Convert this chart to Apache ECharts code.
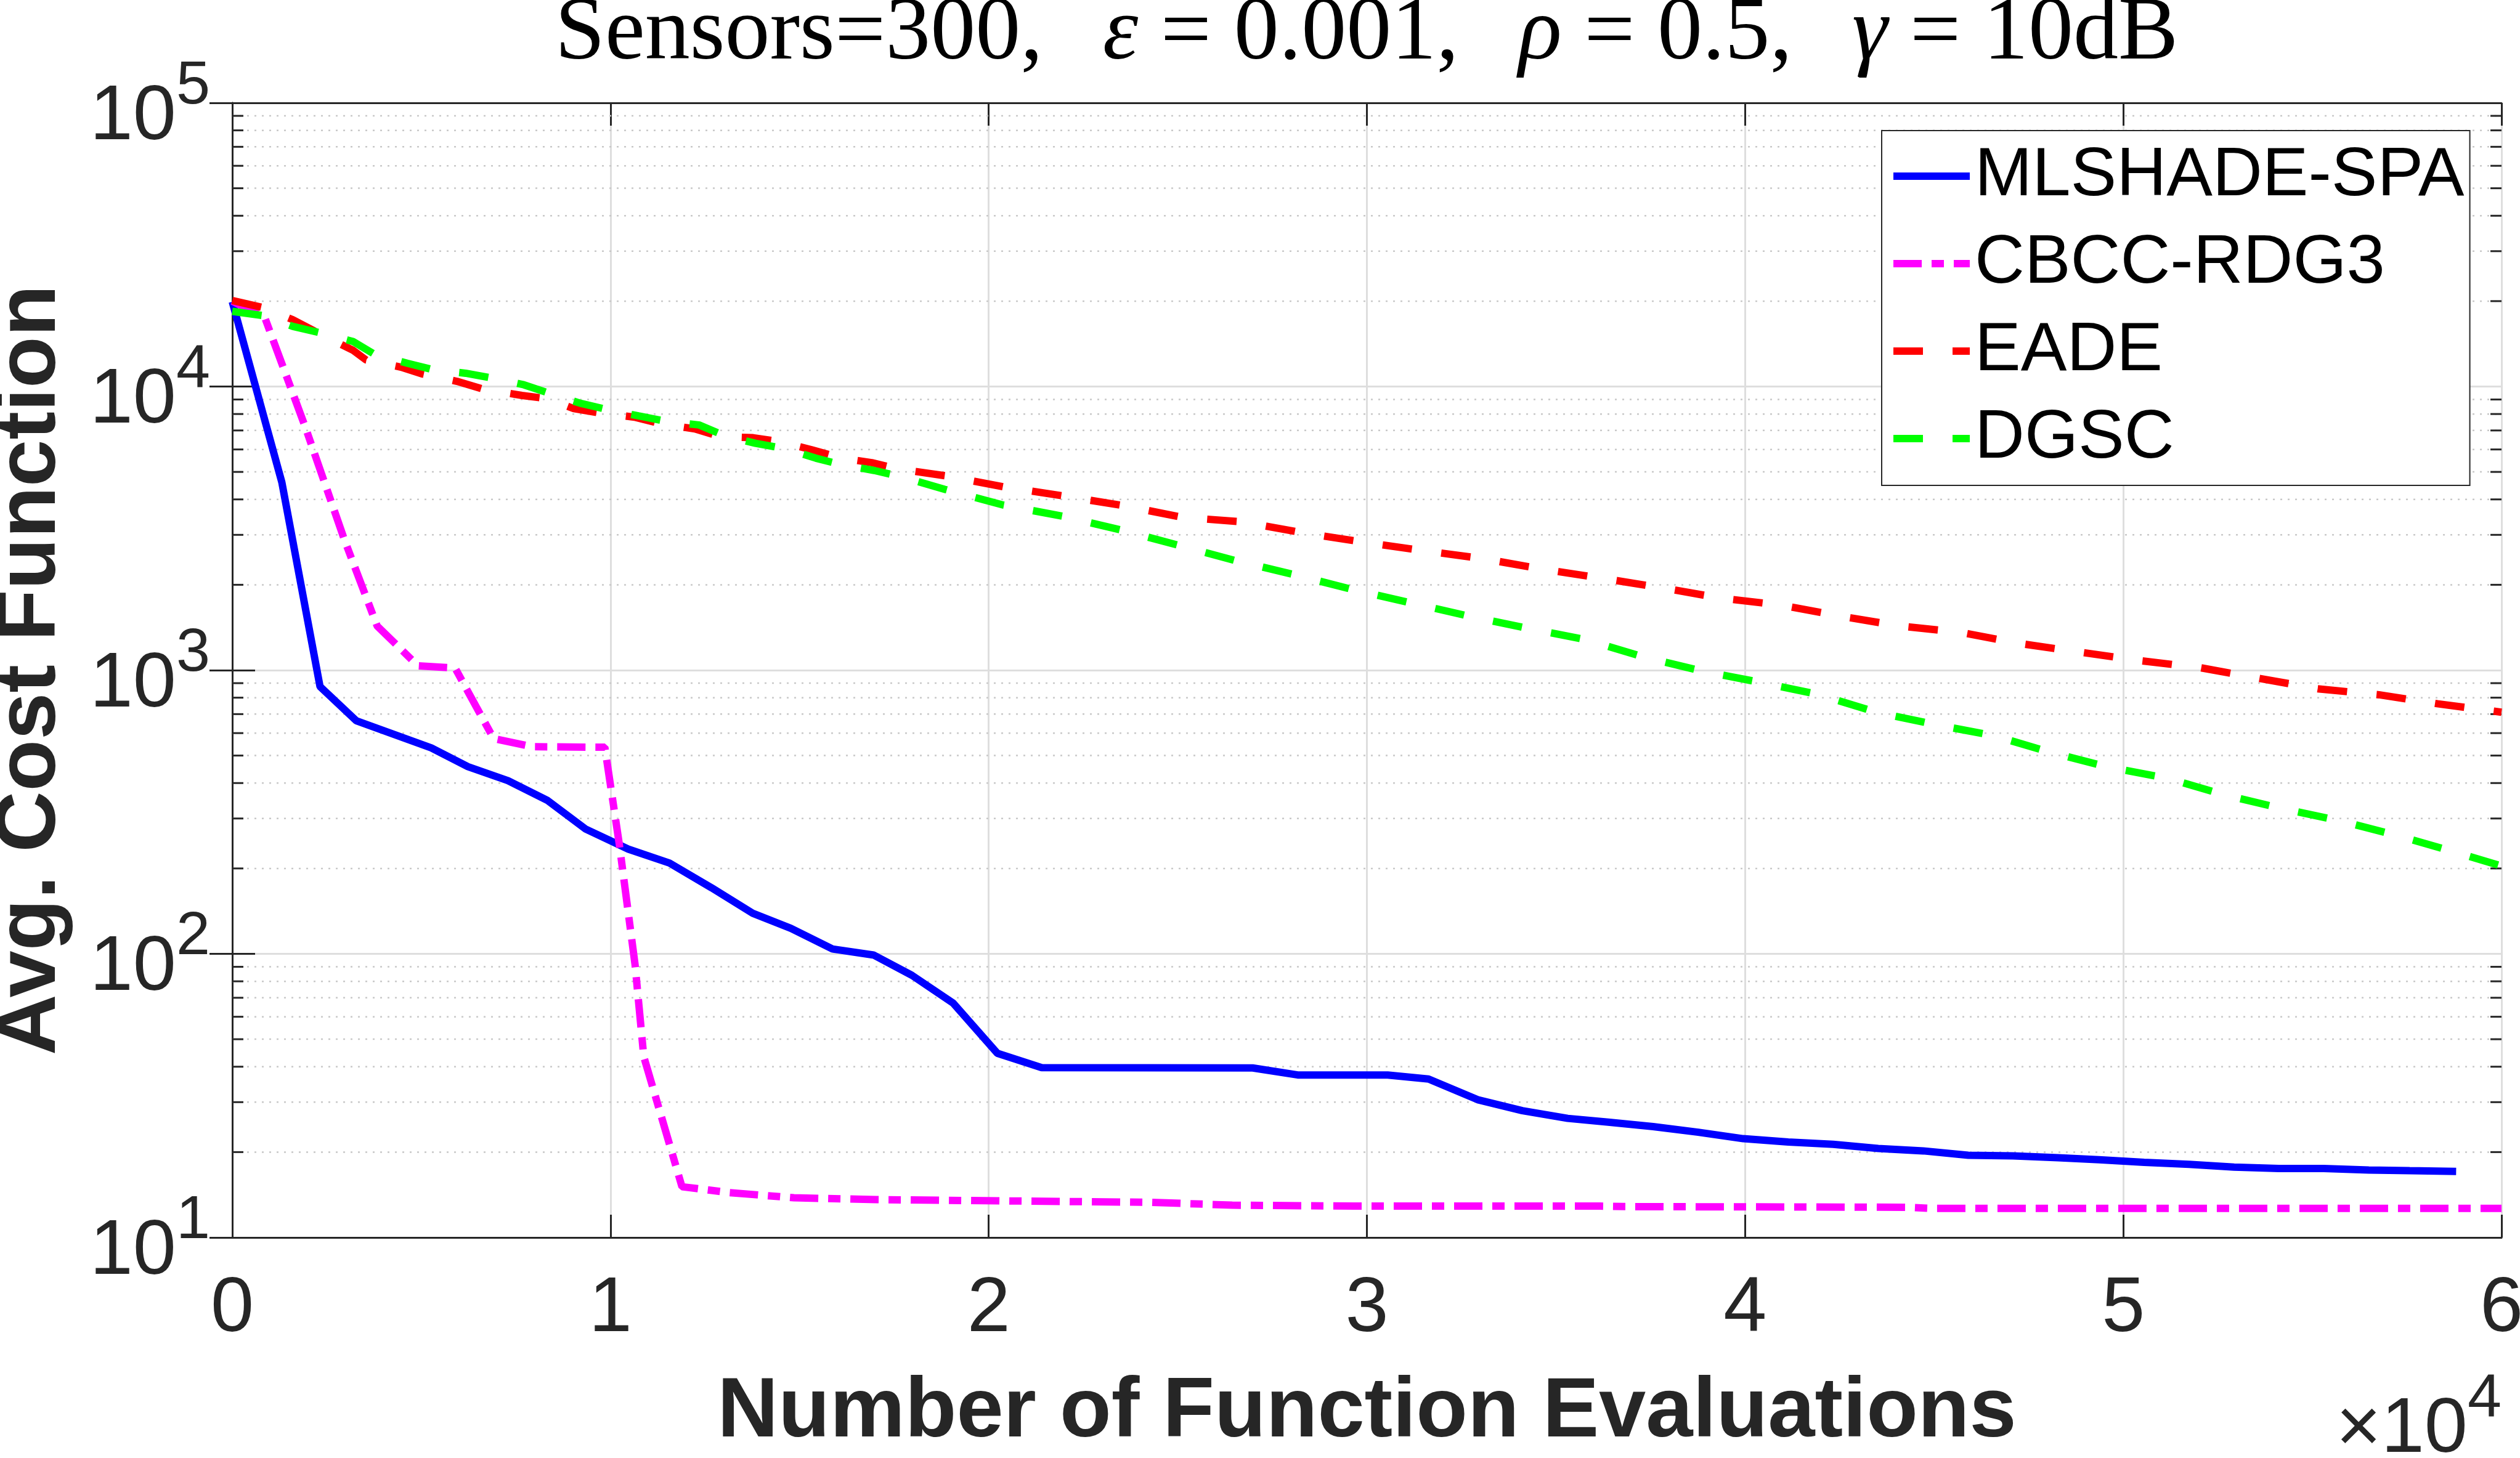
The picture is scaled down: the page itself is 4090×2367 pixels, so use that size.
<!DOCTYPE html>
<html>
<head>
<meta charset="utf-8">
<script src="https://cdn.jsdelivr.net/npm/echarts@6/dist/echarts.min.js"></script>
<style>
  html, body { margin: 0; padding: 0; background: #fff; }
  #chart { width: 4090px; height: 2367px; }
</style>
</head>
<body>
<div id="chart"></div>
<script>
// evaluations (raw count) and average cost values
const mlshadeX = [0, 1310, 2320, 3280, 5260, 6230, 7290, 8340, 9350, 10470, 11560, 12670, 13760, 14770, 15870, 16960, 17970, 19060, 20230, 21400, 26980, 28170, 30550, 31630, 32930, 34110, 35310, 36380, 37570, 38760, 39950, 41140, 42330, 43520, 44710, 45900, 47080, 48270, 49360, 50550, 51740, 52930, 54110, 55300, 56490, 57570, 58800]
const mlshadeY = [19900, 4600, 875, 663, 532, 457, 408, 347, 275, 234, 209, 171, 139, 123, 104, 99, 84, 67, 44.6, 39.7, 39.6, 37.4, 37.4, 36.2, 30.6, 28.0, 26.3, 25.5, 24.6, 23.5, 22.3, 21.7, 21.3, 20.6, 20.2, 19.5, 19.4, 19.1, 18.8, 18.4, 18.1, 17.7, 17.5, 17.5, 17.3, 17.2, 17.1]

const cbccX = [0, 860, 1940, 2970, 3830, 4910, 5890, 6910, 7940, 9850, 10230, 10650, 10880, 11890, 13140, 14850, 17030, 24300, 26440, 29680, 36170, 36800, 44300, 44900, 60000]
const cbccY = [20000, 17500, 7140, 2870, 1432, 1036, 1018, 574, 537, 535, 245, 91.5, 43.4, 15.1, 14.4, 13.8, 13.6, 13.3, 13.0, 12.9, 12.9, 12.85, 12.78, 12.67, 12.67]

const eadeX = [0, 800, 1600, 2170, 3200, 3540, 4460, 5030, 5940, 6630, 7660, 8340, 9030, 9710, 10630, 11310, 12230, 12910, 13770, 14510, 15310, 16110, 16910, 17600, 18840, 20390, 21950, 23570, 25120, 26740, 28300, 29890, 31470, 33090, 34650, 36200, 37820, 39350, 40970, 42520, 44080, 45690, 47250, 48870, 50420, 52040, 53590, 55140, 56760, 58320, 60000]
const eadeY = [20100, 19000, 17200, 15700, 13400, 12400, 11700, 11070, 10430, 9790, 9300, 9060, 8360, 8070, 7800, 7400, 7090, 6660, 6600, 6380, 5990, 5590, 5390, 5120, 4850, 4430, 4120, 3800, 3460, 3330, 3050, 2830, 2640, 2470, 2270, 2110, 1950, 1795, 1695, 1550, 1432, 1360, 1242, 1157, 1081, 1020, 936, 860, 819, 761, 711]

const dgscX = [0, 800, 1600, 2340, 3200, 3770, 4630, 5310, 6170, 6910, 7710, 8400, 9200, 9940, 10740, 11490, 12340, 13030, 13830, 14630, 15430, 16110, 16970, 17660, 18840, 20390, 21950, 23500, 25050, 26540, 28090, 29580, 31140, 32700, 34240, 35800, 37350, 38840, 40360, 41920, 43470, 45020, 46570, 48060, 49610, 51160, 52650, 54200, 55750, 57300, 58790, 60000]
const dgscY = [18400, 17800, 16300, 15450, 14400, 12970, 12080, 11460, 11140, 10690, 10140, 9450, 8730, 8280, 7880, 7530, 7320, 6700, 6310, 6030, 5590, 5300, 5060, 4820, 4340, 3820, 3490, 3120, 2750, 2430, 2170, 1930, 1730, 1550, 1405, 1280, 1110, 994, 908, 822, 711, 643, 588, 514, 455, 416, 364, 325, 294, 260, 228, 204]

const seriesNames = ["MLSHADE-SPA", "CBCC-RDG3", "EADE", "DGSC"]
// minor log ticks 2..9 in each decade
const minorTicks = [20, 30, 40, 50, 60, 70, 80, 90, 200, 300, 400, 500, 600, 700, 800, 900,
  2000, 3000, 4000, 5000, 6000, 7000, 8000, 9000, 20000, 30000, 40000, 50000, 60000, 70000, 80000, 90000]

const pairs = (xs, ys) => xs.map((x, i) => [x, ys[i]])

const SANS = "'Liberation Sans', Arial, sans-serif"
const SERIF = "'Liberation Serif', 'Times New Roman', serif"
const AX = "#262626"

const expRich = {
  b: { fontSize: 126, fontFamily: SANS, color: AX, lineHeight: 200 },
  s: { fontSize: 99, fontFamily: SANS, color: AX, lineHeight: 99, verticalAlign: "top" },
}

let myChart = echarts.init(document.getElementById("chart"), null, { renderer: "canvas" })

const option = {
  animation: false,
  backgroundColor: "#fff",
  grid: { left: 377, right: 30, top: 167, bottom: 358, containLabel: false, outerBoundsMode: "none" },
  legend: {
    orient: "vertical",
    left: 3054,
    top: 212,
    data: seriesNames,
    itemWidth: 124,
    itemHeight: 2,
    itemGap: 0,
    padding: [3, 9, 5, 13],
    borderColor: AX,
    borderWidth: 2,
    borderRadius: 0,
    backgroundColor: "#fff",
    itemStyle: { opacity: 0 },
    lineStyle: { width: 12, type: "inherit", cap: "butt" },
    textStyle: { fontSize: 112, fontFamily: SANS, color: "#000", lineHeight: 142, padding: [0, 0, 0, 3] },
  },
  xAxis: [
    {
      type: "value",
      min: 0,
      max: 60000,
      interval: 10000,
      name: "Number of Function Evaluations",
      nameLocation: "middle",
      nameGap: 217,
      nameTextStyle: { fontSize: 137, fontWeight: "bold", fontFamily: SANS, color: AX, lineHeight: 137 },
      axisLine: { show: true, lineStyle: { color: AX, width: 3 } },
      axisTick: { inside: true, length: 37, lineStyle: { color: AX, width: 3 } },
      axisLabel: {
        margin: 54,
        fontSize: 126,
        lineHeight: 126,
        fontFamily: SANS,
        color: AX,
        formatter: (v) => String(v / 10000),
      },
      splitLine: { show: true, lineStyle: { color: "#dedede", width: 3 } },
    },
    {
      type: "value",
      position: "top",
      min: 0,
      max: 60000,
      interval: 10000,
      axisLine: { show: true, lineStyle: { color: AX, width: 3 } },
      axisTick: { inside: true, length: 37, lineStyle: { color: AX, width: 3 } },
      axisLabel: { show: false },
      splitLine: { show: false },
    },
  ],
  yAxis: [
    {
      type: "log",
      logBase: 10,
      min: 10,
      max: 100000,
      name: "Avg. Cost Function",
      nameLocation: "middle",
      nameGap: 257,
      nameTextStyle: { fontSize: 137, fontWeight: "bold", fontFamily: SANS, color: AX, lineHeight: 137 },
      axisLine: { show: true, lineStyle: { color: AX, width: 3 } },
      axisTick: { inside: true, length: 37, lineStyle: { color: AX, width: 3 } },
      axisLabel: {
        margin: 36,
        padding: [48, 0, 0, 0],
        formatter: (v) => "{b|10}{s|" + Math.round(Math.log10(v)) + "}",
        rich: expRich,
      },
      splitLine: { show: true, lineStyle: { color: "#dedede", width: 3 } },
    },
    {
      type: "log",
      logBase: 10,
      min: 10,
      max: 100000,
      position: "right",
      axisLine: { show: true, lineStyle: { color: AX, width: 3 } },
      axisTick: { inside: true, length: 37, lineStyle: { color: AX, width: 3 } },
      axisLabel: { show: false },
      splitLine: { show: false },
    },
  ],
  graphic: [
    {
      type: "text",
      x: 2218,
      y: 57,
      style: {
        text: "{r|Sensors=300,}{g| }{i|ε}{r| = 0.001,}{g| }{i|ρ}{r| = 0.5,}{g| }{i|γ}{r| = 10dB}",
        align: "center",
        verticalAlign: "middle",
        rich: {
          r: { fontSize: 146, fontFamily: SERIF, fill: "#000", color: "#000" },
          i: { fontSize: 146, fontFamily: SERIF, fontStyle: "italic", fill: "#000", color: "#000" },
          g: { fontSize: 146, fontFamily: SERIF, width: 97 },
        },
      },
    },
    {
      type: "text",
      x: 4060,
      y: 2322,
      style: {
        text: "{x|×}{b|10}{s|4}",
        align: "right",
        verticalAlign: "middle",
        rich: {
          x: { fontSize: 126, fontFamily: SANS, fill: AX, color: AX, lineHeight: 200 },
          b: { fontSize: 126, fontFamily: SANS, fill: AX, color: AX, lineHeight: 200 },
          s: { fontSize: 99, fontFamily: SANS, fill: AX, color: AX, lineHeight: 99, verticalAlign: "top" },
        },
      },
    },
  ],
  series: [
    {
      // dotted minor grid with small ticks on both sides
      type: "custom",
      silent: true,
      z: 1,
      xAxisIndex: 0,
      yAxisIndex: 0,
      data: minorTicks.map((v) => [0, v]),
      renderItem: (params, api) => {
        const cs = params.coordSys
        const y = api.coord([0, api.value(1)])[1]
        return {
          type: "group",
          children: [
            {
              type: "line",
              shape: { x1: cs.x, y1: y, x2: cs.x + cs.width, y2: y },
              style: { stroke: "#c9c9c9", lineWidth: 2.5, lineDash: [3, 9] },
            },
            {
              type: "line",
              shape: { x1: cs.x, y1: y, x2: cs.x + 18, y2: y },
              style: { stroke: AX, lineWidth: 3 },
            },
            {
              type: "line",
              shape: { x1: cs.x + cs.width - 18, y1: y, x2: cs.x + cs.width, y2: y },
              style: { stroke: AX, lineWidth: 3 },
            },
          ],
        }
      },
    },
    {
      name: "MLSHADE-SPA",
      type: "line",
      z: 3,
      symbol: "none",
      data: pairs(mlshadeX, mlshadeY),
      lineStyle: { color: "#0000ff", width: 12, type: "solid" },
      itemStyle: { color: "#0000ff" },
    },
    {
      name: "CBCC-RDG3",
      type: "line",
      z: 4,
      symbol: "none",
      data: pairs(cbccX, cbccY),
      lineStyle: { color: "#ff00ff", width: 12, type: [46, 16, 20, 16], cap: "butt" },
      itemStyle: { color: "#ff00ff" },
    },
    {
      name: "EADE",
      type: "line",
      z: 5,
      symbol: "none",
      data: pairs(eadeX, eadeY),
      lineStyle: { color: "#ff0000", width: 12, type: [48, 48], cap: "butt" },
      itemStyle: { color: "#ff0000" },
    },
    {
      name: "DGSC",
      type: "line",
      z: 6,
      symbol: "none",
      data: pairs(dgscX, dgscY),
      lineStyle: { color: "#00ff00", width: 12, type: [48, 48], cap: "butt" },
      itemStyle: { color: "#00ff00" },
    },
  ],
}

option && myChart.setOption(option)
window.onresize = function () {
  myChart.resize()
}
</script>
</body>
</html>
